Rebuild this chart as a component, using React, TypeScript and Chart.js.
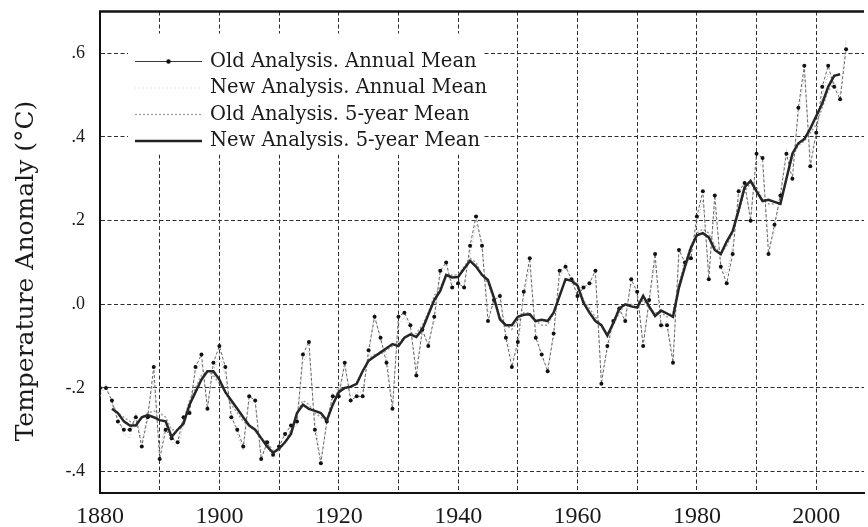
import React, { useEffect, useRef } from "react";
import { Chart, registerables } from "chart.js";

Chart.register(...registerables);

// ---------------- data ----------------
const annualStartYear = 1880;

const oldAnnual = [
  -0.2, -0.2, -0.23, -0.28, -0.3, -0.3, -0.27, -0.34, -0.27, -0.15,
  -0.37, -0.3, -0.32, -0.33, -0.27, -0.26, -0.15, -0.12, -0.25, -0.14,
  -0.1, -0.15, -0.27, -0.3, -0.34, -0.22, -0.23, -0.37, -0.33, -0.36,
  -0.34, -0.31, -0.29, -0.28, -0.12, -0.09, -0.3, -0.38, -0.28, -0.22,
  -0.22, -0.14, -0.23, -0.22, -0.22, -0.11, -0.03, -0.08, -0.14, -0.25,
  -0.03, -0.02, -0.05, -0.17, -0.06, -0.1, -0.03, 0.08, 0.1, 0.04,
  0.05, 0.04, 0.14, 0.21, 0.14, -0.04, 0.01, 0.02, -0.08, -0.15,
  -0.09, 0.03, 0.11, -0.08, -0.12, -0.16, -0.07, 0.08, 0.09, 0.06,
  0.02, 0.04, 0.05, 0.08, -0.19, -0.1, -0.04, -0.01, -0.04, 0.06,
  0.03, -0.1, 0.01, 0.12, -0.05, -0.05, -0.14, 0.13, 0.1, 0.11,
  0.21, 0.27, 0.06, 0.26, 0.09, 0.05, 0.12, 0.27, 0.29, 0.2,
  0.36, 0.35, 0.12, 0.19, 0.26, 0.36, 0.3, 0.47, 0.57, 0.33,
  0.41, 0.52, 0.57, 0.52, 0.49, 0.61,
];

const newAnnual = [
  -0.22, -0.19, -0.24, -0.27, -0.31, -0.32, -0.26, -0.33, -0.26, -0.18,
  -0.35, -0.28, -0.33, -0.34, -0.29, -0.24, -0.16, -0.14, -0.24, -0.16,
  -0.12, -0.17, -0.26, -0.31, -0.35, -0.23, -0.24, -0.36, -0.34, -0.37,
  -0.35, -0.33, -0.3, -0.29, -0.14, -0.11, -0.28, -0.37, -0.29, -0.21,
  -0.2, -0.15, -0.22, -0.21, -0.21, -0.13, -0.02, -0.09, -0.12, -0.24,
  -0.05, -0.03, -0.06, -0.15, -0.07, -0.09, -0.04, 0.07, 0.09, 0.05,
  0.06, 0.05, 0.12, 0.19, 0.15, -0.02, 0.0, 0.03, -0.07, -0.13,
  -0.11, 0.02, 0.09, -0.06, -0.13, -0.15, -0.08, 0.06, 0.1, 0.05,
  0.03, 0.05, 0.04, 0.06, -0.17, -0.11, -0.05, -0.02, -0.03, 0.05,
  0.02, -0.09, 0.0, 0.1, -0.06, -0.04, -0.13, 0.11, 0.08, 0.12,
  0.19, 0.25, 0.08, 0.23, 0.1, 0.07, 0.14, 0.25, 0.28, 0.21,
  0.34, 0.33, 0.14, 0.17, 0.27, 0.37, 0.33, 0.45, 0.55, 0.36,
  0.4, 0.5, 0.55, 0.53, 0.5, 0.63,
];

const fiveYearStartYear = 1882;

const newFiveYear = [
  -0.25, -0.26, -0.28, -0.29, -0.29, -0.27, -0.265, -0.27,
  -0.277, -0.28, -0.317, -0.3, -0.285, -0.24, -0.21, -0.18, -0.16, -0.16,
  -0.18, -0.21, -0.23, -0.25, -0.27, -0.29, -0.3, -0.32, -0.34, -0.355,
  -0.345, -0.33, -0.31, -0.26, -0.24, -0.25, -0.255, -0.26, -0.278, -0.24,
  -0.21, -0.2, -0.197, -0.19, -0.16, -0.135, -0.125, -0.115, -0.105, -0.095,
  -0.1, -0.08, -0.072, -0.078, -0.06, -0.025, 0.01, 0.032, 0.07, 0.064,
  0.065, 0.085, 0.104, 0.09, 0.07, 0.058, 0.016, -0.036, -0.05, -0.05,
  -0.03, -0.025, -0.024, -0.04, -0.037, -0.04, -0.02, 0.02, 0.06, 0.056,
  0.045, 0.004, -0.02, -0.04, -0.05, -0.075, -0.045, -0.01, 0.0, -0.005,
  -0.008, 0.02, -0.005, -0.028, -0.015, -0.022, -0.03, 0.04, 0.09, 0.135,
  0.165, 0.17, 0.16, 0.13, 0.12, 0.15, 0.175, 0.225, 0.28, 0.295,
  0.27, 0.247, 0.25, 0.245, 0.24, 0.3, 0.36, 0.385, 0.395, 0.42,
  0.45, 0.48, 0.52, 0.546, 0.55,
];

const oldFiveYear = [
  -0.24, -0.26, -0.27, -0.28, -0.29, -0.27, -0.26, -0.255,
  -0.26, -0.27, -0.3, -0.3, -0.28, -0.23, -0.2, -0.17, -0.16, -0.17,
  -0.19, -0.21, -0.24, -0.26, -0.28, -0.29, -0.3, -0.32, -0.33, -0.35,
  -0.35, -0.33, -0.3, -0.26, -0.23, -0.24, -0.26, -0.27, -0.28, -0.24,
  -0.2, -0.2, -0.2, -0.19, -0.16, -0.13, -0.12, -0.12, -0.11, -0.1,
  -0.09, -0.08, -0.07, -0.07, -0.05, -0.02, 0.02, 0.04, 0.07, 0.07,
  0.07, 0.09, 0.11, 0.1, 0.07, 0.05, 0.01, -0.03, -0.05, -0.06,
  -0.04, -0.02, -0.02, -0.04, -0.05, -0.05, -0.02, 0.02, 0.06, 0.06,
  0.05, 0.01, -0.01, -0.03, -0.05, -0.07, -0.05, -0.02, 0.0, 0.0,
  -0.01, 0.01, -0.01, -0.02, -0.02, -0.03, -0.02, 0.05, 0.1, 0.14,
  0.17, 0.18, 0.17, 0.14, 0.12, 0.14, 0.17, 0.22, 0.27, 0.29,
  0.28, 0.25, 0.24, 0.24, 0.25, 0.3, 0.35, 0.38, 0.39, 0.41,
  0.43, 0.47, 0.51, 0.53,
];

const xGridYears = [1880, 1890, 1900, 1910, 1920, 1930, 1940, 1950, 1960, 1970, 1980, 1990, 2000];
const xLabelYears = [1880, 1900, 1920, 1940, 1960, 1980, 2000];
const yTickValues = [-0.4, -0.2, 0, 0.2, 0.4, 0.6];

const legendLabels = [
  "Old Analysis. Annual Mean",
  "New Analysis. Annual Mean",
  "Old Analysis. 5-year Mean",
  "New Analysis. 5-year Mean",
];

const yAxisTitle = "Temperature Anomaly (°C)";

// ---------------- helpers ----------------
function toPoints(start: number, values: number[]) {
  return values.map((v, i) => ({ x: start + i, y: v }));
}

function formatY(v: number) {
  if (Math.abs(v) < 1e-9) return ".0";
  const d = Math.round(Math.abs(v) * 10);
  return (v < 0 ? "-." : ".") + d;
}

const legendPlugin = {
  id: "insideLegend",
  beforeDatasetsDraw(chart: any) {
    const { ctx, chartArea } = chart;
    const bx = chartArea.left + 28;
    const by = chartArea.top + 22;
    ctx.save();
    ctx.fillStyle = "#ffffff";
    ctx.fillRect(bx, by, 356, 121);
    const rowsY = [61.5, 88, 114.5, 141];
    const x0 = chartArea.left + 35;
    const x1 = chartArea.left + 102;
    rowsY.forEach((yy, i) => {
      ctx.save();
      ctx.beginPath();
      if (i === 0) {
        ctx.strokeStyle = "#3a3a3a";
        ctx.lineWidth = 1;
        ctx.setLineDash([]);
      } else if (i === 1) {
        ctx.strokeStyle = "#cfcfcf";
        ctx.lineWidth = 1;
        ctx.setLineDash([1, 3]);
      } else if (i === 2) {
        ctx.strokeStyle = "#9c9c9c";
        ctx.lineWidth = 1.2;
        ctx.setLineDash([2, 2]);
      } else {
        ctx.strokeStyle = "#222";
        ctx.lineWidth = 2.5;
        ctx.setLineDash([]);
      }
      ctx.moveTo(x0, yy);
      ctx.lineTo(x1, yy);
      ctx.stroke();
      if (i === 0) {
        ctx.beginPath();
        ctx.fillStyle = "#111";
        ctx.arc((x0 + x1) / 2, yy, 2.2, 0, Math.PI * 2);
        ctx.fill();
      }
      ctx.restore();
      ctx.fillStyle = "#1a1a1a";
      ctx.font = '19.5px "DejaVu Serif"';
      ctx.textAlign = "left";
      ctx.textBaseline = "middle";
      ctx.fillText(legendLabels[i], chartArea.left + 110, yy);
    });
    ctx.restore();
  },
};

const framePlugin = {
  id: "frameAndTitle",
  afterDraw(chart: any) {
    const { ctx, chartArea } = chart;
    ctx.save();
    ctx.strokeStyle = "#111";
    ctx.lineWidth = 2.5;
    ctx.beginPath();
    ctx.moveTo(chartArea.left - 1, chartArea.top);
    ctx.lineTo(chartArea.right, chartArea.top);
    ctx.stroke();
    ctx.translate(26, 271);
    ctx.rotate(-Math.PI / 2);
    ctx.fillStyle = "#1a1a1a";
    ctx.font = '25px "DejaVu Serif"';
    ctx.textAlign = "center";
    ctx.textBaseline = "middle";
    ctx.fillText(yAxisTitle, 0, 0);
    ctx.restore();
  },
};

export default function App() {
  const canvasRef = useRef<HTMLCanvasElement | null>(null);

  useEffect(() => {
    if (!canvasRef.current) return;
    const chart = new Chart(canvasRef.current, {
      type: "line",
      data: {
        datasets: [
          {
            label: legendLabels[3],
            data: toPoints(fiveYearStartYear, newFiveYear),
            borderColor: "#262626",
            borderWidth: 2.5,
            pointRadius: 0,
            tension: 0,
            order: 0,
          },
          {
            label: legendLabels[0],
            data: toPoints(annualStartYear, oldAnnual),
            borderColor: "#666",
            borderWidth: 1,
            borderDash: [3, 2],
            pointRadius: 2,
            pointBackgroundColor: "#111",
            pointBorderWidth: 0,
            tension: 0,
            order: 1,
          },
          {
            label: legendLabels[1],
            data: toPoints(annualStartYear, newAnnual),
            borderColor: "#b8b8b8",
            borderWidth: 1,
            borderDash: [1, 2],
            pointRadius: 0,
            tension: 0,
            order: 2,
          },
          {
            label: legendLabels[2],
            data: toPoints(fiveYearStartYear, oldFiveYear),
            borderColor: "#a0a0a0",
            borderWidth: 1.5,
            borderDash: [2, 2],
            pointRadius: 0,
            tension: 0,
            order: 3,
          },
        ],
      },
      options: {
        animation: false,
        responsive: true,
        maintainAspectRatio: false,
        layout: { padding: { top: 11.5, left: 0, right: 0, bottom: 0 } },
        plugins: {
          legend: { display: false },
          tooltip: { enabled: false },
          title: { display: false },
        },
        scales: {
          x: {
            type: "linear",
            min: 1880,
            max: 2008,
            afterBuildTicks(scale: any) {
              scale.ticks = xGridYears.map((v) => ({ value: v }));
            },
            afterFit(scale: any) {
              scale.height = 34.5;
              scale.paddingRight = 0;
            },
            grid: { color: "#2e2e2e", lineWidth: 1, drawTicks: false },
            border: { display: true, color: "#111", width: 2, dash: [4, 2.5] },
            ticks: {
              autoSkip: false,
              maxRotation: 0,
              padding: 10,
              color: "#1a1a1a",
              font: { family: '"Liberation Serif"', size: 24 },
              callback: (v: any) => (xLabelYears.includes(Number(v)) ? String(v) : ""),
            },
          },
          y: {
            type: "linear",
            min: -0.45,
            max: 0.7,
            afterBuildTicks(scale: any) {
              scale.ticks = yTickValues.map((v) => ({ value: v }));
            },
            afterFit(scale: any) {
              scale.width = 100;
              scale.paddingTop = 0;
              scale.paddingBottom = 0;
            },
            grid: { color: "#2e2e2e", lineWidth: 1, drawTicks: false },
            border: { display: true, color: "#111", width: 2, dash: [4, 2.5] },
            ticks: {
              padding: 15,
              color: "#1a1a1a",
              font: { family: '"Liberation Serif"', size: 18 },
              callback: (v: any) => formatY(Number(v)),
            },
          },
        },
      },
      plugins: [legendPlugin, framePlugin],
    });
    return () => chart.destroy();
  }, []);

  return (
    <div style={{ position: "fixed", left: 0, top: 0, width: 868, height: 527, background: "#fff" }}>
      <canvas ref={canvasRef} />
    </div>
  );
}
